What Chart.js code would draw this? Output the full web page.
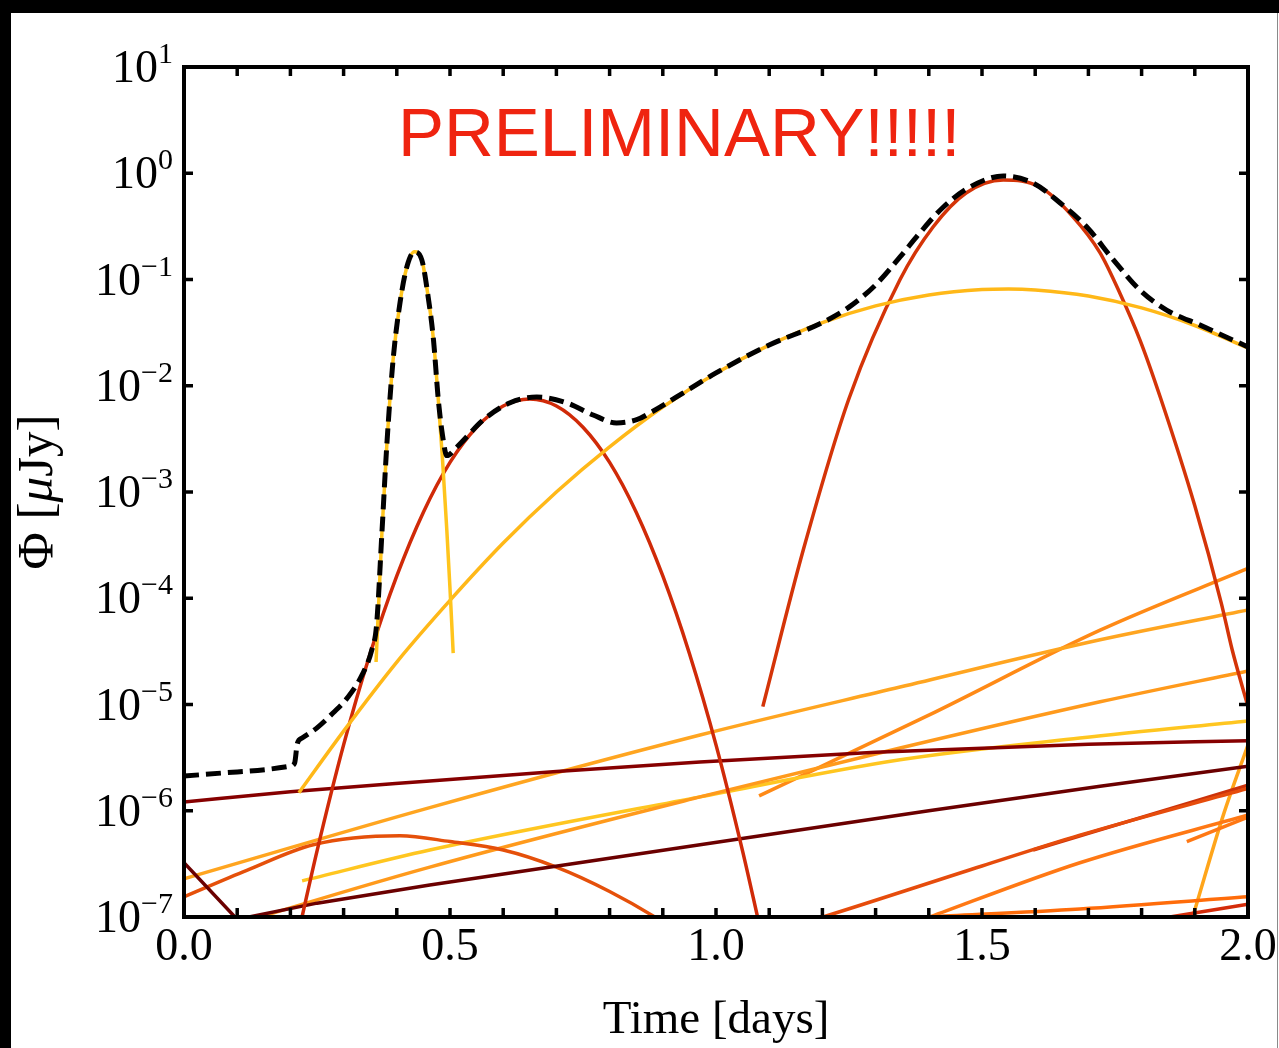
<!DOCTYPE html>
<html>
<head>
<meta charset="utf-8">
<title>Light curve</title>
<script src="https://cdn.jsdelivr.net/npm/chart.js@4.4.1/dist/chart.umd.min.js"></script>
<style>
    html, body { margin: 0; padding: 0; background: #000; }
    #wrap { position: absolute; left: 11px; top: 13px; width: 1268px; height: 1035px; background: #fff; }
    #edge { position: absolute; left: 1277px; top: 13px; width: 1px; height: 1035px; background: #8a8a8a; }
    canvas { display: block; }
</style>
</head>
<body>
<div id="wrap"><canvas id="lc" width="1268" height="1035"></canvas></div>
<div id="edge"></div>
<script>
// --- axis text ---
const titleText = 'PRELIMINARY!!!!!';
const xTitle = 'Time [days]';
const xTickLabels = ['0.0', '0.5', '1.0', '1.5', '2.0'];
const xMinorStep = 0.1;
const yExponents = [-7, -6, -5, -4, -3, -2, -1, 0, 1];

// --- series (time in days, flux in uJy) ---
// total, black dashed
const totalT = [0, 0.1, 0.2, 0.208, 0.213, 0.222, 0.25, 0.28, 0.308, 0.335, 0.353, 0.362, 0.372, 0.381, 0.393, 0.406, 0.419, 0.433, 0.447, 0.459, 0.469, 0.478, 0.486, 0.494, 0.513, 0.563, 0.613, 0.663, 0.719, 0.769, 0.813, 0.851, 0.876, 0.95, 1.0, 1.1, 1.2, 1.25, 1.3, 1.346, 1.383, 1.427, 1.477, 1.54, 1.596, 1.647, 1.697, 1.747, 1.797, 1.847, 1.91, 2.0];
const totalF = [2.12e-6, 2.32e-6, 2.63e-6, 2.82e-6, 4.3e-6, 4.84e-6, 6.03e-6, 8.32e-6, 1.17e-5, 1.91e-5, 3.26e-5, 5.62e-5, 4.11e-4, 2.65e-3, 1.75e-2, 6.03e-2, 0.132, 0.182, 0.153, 0.0684, 0.0269, 7.41e-3, 3.4e-3, 2.2e-3, 2.65e-3, 4.79e-3, 6.92e-3, 7.83e-3, 6.92e-3, 5.31e-3, 4.47e-3, 4.79e-3, 5.55e-3, 9.3e-3, 1.32e-2, 2.42e-2, 3.93e-2, 5.5e-2, 8.9e-2, 0.163, 0.274, 0.479, 0.741, 0.942, 0.809, 0.525, 0.312, 0.153, 0.0794, 0.0516, 0.0372, 0.0232];

// first red bump
const redAT = [0.22, 0.25, 0.3, 0.35, 0.4, 0.45, 0.5, 0.55, 0.6, 0.65, 0.7, 0.75, 0.8, 0.85, 0.9, 0.95, 1.0, 1.05, 1.08];
const redAF = [9.1e-8, 4.17e-7, 4.17e-6, 3.02e-5, 1.62e-4, 6.46e-4, 1.9e-3, 4.07e-3, 6.45e-3, 7.5e-3, 6.45e-3, 4.07e-3, 1.9e-3, 6.46e-4, 1.62e-4, 3.02e-5, 4.17e-6, 4.17e-7, 9.1e-8];

// second red bump
const redBT = [1.088, 1.164, 1.25, 1.346, 1.408, 1.47, 1.54, 1.609, 1.671, 1.722, 1.759, 1.797, 1.835, 1.9, 1.95, 1.97, 2.0];
const redBF = [9.55e-6, 2.84e-4, 7.59e-3, 0.1, 0.312, 0.652, 0.865, 0.741, 0.389, 0.178, 0.0746, 0.0269, 7.83e-3, 7.41e-4, 8.91e-5, 3.31e-5, 9.55e-6];

// narrow yellow spike
const spikeT = [0.361, 0.372, 0.381, 0.393, 0.406, 0.419, 0.433, 0.447, 0.459, 0.469, 0.478, 0.486, 0.494, 0.5, 0.506];
const spikeF = [2.51e-5, 4.11e-4, 2.65e-3, 1.75e-2, 6.03e-2, 0.132, 0.182, 0.153, 0.0684, 0.0269, 7.41e-3, 2.0e-3, 4.4e-4, 1.23e-4, 3.05e-5];

// broad yellow
const broadT = [0.216, 0.3, 0.4, 0.5, 0.6, 0.7, 0.8, 0.9, 1.0, 1.1, 1.2, 1.3, 1.4, 1.5, 1.55, 1.6, 1.7, 1.8, 1.9, 2.0];
const broadF = [1.48e-6, 5.62e-6, 2.51e-5, 9.55e-5, 3.31e-4, 1e-3, 2.66e-3, 6.31e-3, 1.31e-2, 2.41e-2, 3.93e-2, 5.64e-2, 7.16e-2, 8.04e-2, 8.13e-2, 7.96e-2, 6.98e-2, 5.40e-2, 3.69e-2, 2.26e-2];

// faint components
const darkAT = [0, 0.2, 0.462, 0.7, 0.97, 1.3, 1.7, 2.0];
const darkAF = [1.21e-6, 1.51e-6, 1.91e-6, 2.34e-6, 2.88e-6, 3.55e-6, 4.22e-6, 4.57e-6];
const darkBT = [0, 0.1, 0.25, 0.462, 0.97, 1.4, 1.722, 2.0];
const darkBF = [3.24e-7, 9.5e-8, 1.35e-7, 2.0e-7, 4.79e-7, 1e-6, 1.70e-6, 2.63e-6];
const humpT = [0, 0.118, 0.243, 0.406, 0.5, 0.6, 0.7, 0.8, 0.885, 0.95];
const humpF = [1.55e-7, 2.75e-7, 4.79e-7, 5.82e-7, 5.13e-7, 4.27e-7, 2.95e-7, 1.74e-7, 1e-7, 6e-8];
const ambT = [0, 0.462, 0.97, 1.346, 1.722, 2.0];
const ambF = [2.29e-7, 1.07e-6, 5.16e-6, 1.46e-5, 4.07e-5, 7.76e-5];
const orgT = [0.12, 0.143, 0.462, 0.97, 1.346, 1.722, 2.0];
const orgF = [9.2e-8, 1e-7, 2.95e-7, 1.35e-6, 3.89e-6, 1.06e-5, 2.07e-5];
const yelT = [0.222, 0.462, 0.97, 1.346, 1.684, 2.0];
const yelF = [2.19e-7, 4.27e-7, 1.35e-6, 3.02e-6, 4.84e-6, 7.0e-6];
const steepT = [1.081, 1.4, 1.722, 2.0];
const steepF = [1.38e-6, 7.94e-6, 5.01e-5, 1.91e-4];
const rorgT = [1.18, 1.201, 1.5, 1.684, 2.0];
const rorgF = [9.3e-8, 1e-7, 3.02e-7, 5.89e-7, 1.62e-6];
const rorg2T = [1.596, 2.0];
const rorg2F = [4.27e-7, 1.74e-6];
const orgHT = [1.38, 1.402, 1.684, 2.0];
const orgHF = [9.1e-8, 1e-7, 3.24e-7, 9.12e-7];
const orgH2T = [1.885, 2.0];
const orgH2F = [5.13e-7, 8.71e-7];
const flatT = [1.3, 1.4, 1.684, 2.0];
const flatF = [9.4e-8, 1e-7, 1.19e-7, 1.55e-7];
const redCT = [1.83, 1.853, 2.0];
const redCF = [9.6e-8, 1e-7, 1.32e-7];
const riseT = [1.89, 1.896, 1.953, 2.0];
const riseF = [8e-8, 1e-7, 8.9e-7, 4.17e-6];

const pts = (ts, fs) => ts.map((t, i) => ({ x: t, y: fs[i] }));

const line = (ts, fs, color, extra) => Object.assign({
    data: pts(ts, fs),
    borderColor: color,
    borderWidth: 3.5,
    order: 1,
}, extra || {});

const datasets = [
    line(totalT, totalF, '#000000', { borderWidth: 5, borderDash: [15, 7], order: 0 }),
    line(spikeT, spikeF, '#ffc41c'),
    line(broadT, broadF, '#ffb818'),
    line(redAT, redAF, '#d02a08'),
    line(redBT, redBF, '#d43408'),
    line(darkAT, darkAF, '#860000'),
    // sharp dip at the left edge, so no smoothing
    line(darkBT, darkBF, '#6b0000', { cubicInterpolationMode: 'default', tension: 0 }),
    line(humpT, humpF, '#e5500a'),
    line(ambT, ambF, '#ffa520'),
    line(orgT, orgF, '#ff9a1c'),
    line(yelT, yelF, '#ffc620'),
    line(steepT, steepF, '#ff8a16'),
    line(rorgT, rorgF, '#e64c0c'),
    line(rorg2T, rorg2F, '#cc320a'),
    line(orgHT, orgHF, '#ff7814'),
    line(orgH2T, orgH2F, '#ff7814'),
    line(flatT, flatF, '#ff6c0a'),
    line(redCT, redCF, '#d42c0a'),
    line(riseT, riseF, '#ffa51a'),
];

// frame, inward ticks and all axis text
const axesPlugin = {
    id: 'axesPlugin',
    afterDatasetsDraw(chart) {
        const { ctx, chartArea: a, scales: { x, y } } = chart;
        ctx.save();
        ctx.strokeStyle = '#000';
        ctx.fillStyle = '#000';

        ctx.lineWidth = 3.5;
        ctx.beginPath();
        for (let v = xMinorStep; v < x.max - 1e-9; v += xMinorStep) {
            const px = x.getPixelForValue(v);
            ctx.moveTo(px, a.bottom); ctx.lineTo(px, a.bottom - 9);
            ctx.moveTo(px, a.top); ctx.lineTo(px, a.top + 9);
        }
        yExponents.forEach(e => {
            const py = y.getPixelForValue(Math.pow(10, e));
            ctx.moveTo(a.left, py); ctx.lineTo(a.left + 9, py);
            ctx.moveTo(a.right, py); ctx.lineTo(a.right - 9, py);
        });
        ctx.stroke();

        ctx.lineWidth = 4;
        ctx.strokeRect(a.left, a.top, a.right - a.left, a.bottom - a.top);

        // x tick labels
        ctx.font = '46px "Liberation Serif"';
        ctx.textAlign = 'center';
        ctx.textBaseline = 'alphabetic';
        xTickLabels.forEach(lbl => {
            ctx.fillText(lbl, x.getPixelForValue(parseFloat(lbl)), a.bottom + 43);
        });

        // y tick labels as 10 with a raised exponent
        const rightEdge = a.left - 11;
        yExponents.forEach(e => {
            const py = y.getPixelForValue(Math.pow(10, e));
            const sup = e < 0 ? '\u2212' + Math.abs(e) : String(e);
            ctx.textAlign = 'right';
            ctx.font = '30px "Liberation Serif"';
            const supW = ctx.measureText(sup).width;
            ctx.fillText(sup, rightEdge, py - 4);
            ctx.font = '46px "Liberation Serif"';
            ctx.fillText('10', rightEdge - supW, py + 15);
        });

        // axis titles
        ctx.textAlign = 'center';
        ctx.font = '47px "Liberation Serif"';
        ctx.fillText(xTitle, (a.left + a.right) / 2, a.bottom + 116);

        ctx.save();
        ctx.translate(a.left - 132, (a.top + a.bottom) / 2);
        ctx.rotate(-Math.PI / 2);
        const parts = [['\u03A6 [', 'normal'], ['\u03BC', 'italic'], ['Jy]', 'normal']];
        const widths = parts.map(([s, st]) => {
            ctx.font = st + ' 51px "Liberation Serif"';
            return ctx.measureText(s).width;
        });
        let cx = -widths.reduce((p, w) => p + w, 0) / 2;
        ctx.textAlign = 'left';
        parts.forEach(([s, st], i) => {
            ctx.font = st + ' 51px "Liberation Serif"';
            ctx.fillText(s, cx, 0);
            cx += widths[i];
        });
        ctx.restore();

        // red banner
        ctx.textAlign = 'left';
        ctx.fillStyle = '#ef2410';
        ctx.font = '69px "Liberation Sans"';
        ctx.fillText(titleText, a.left + 214, a.top + 89);

        ctx.restore();
    }
};

new Chart(document.getElementById('lc'), {
    type: 'line',
    data: { datasets },
    options: {
        responsive: false,
        animation: false,
        devicePixelRatio: 1,
        layout: { padding: { left: 173, top: 54, right: 31, bottom: 131 } },
        elements: {
            point: { radius: 0 },
            line: { cubicInterpolationMode: 'monotone', borderCapStyle: 'butt' },
        },
        scales: {
            x: { type: 'linear', min: 0, max: 2, display: false },
            y: { type: 'logarithmic', min: 1e-7, max: 10, display: false },
        },
        plugins: {
            legend: { display: false },
            tooltip: { enabled: false },
        },
    },
    plugins: [axesPlugin],
});
</script>
</body>
</html>
